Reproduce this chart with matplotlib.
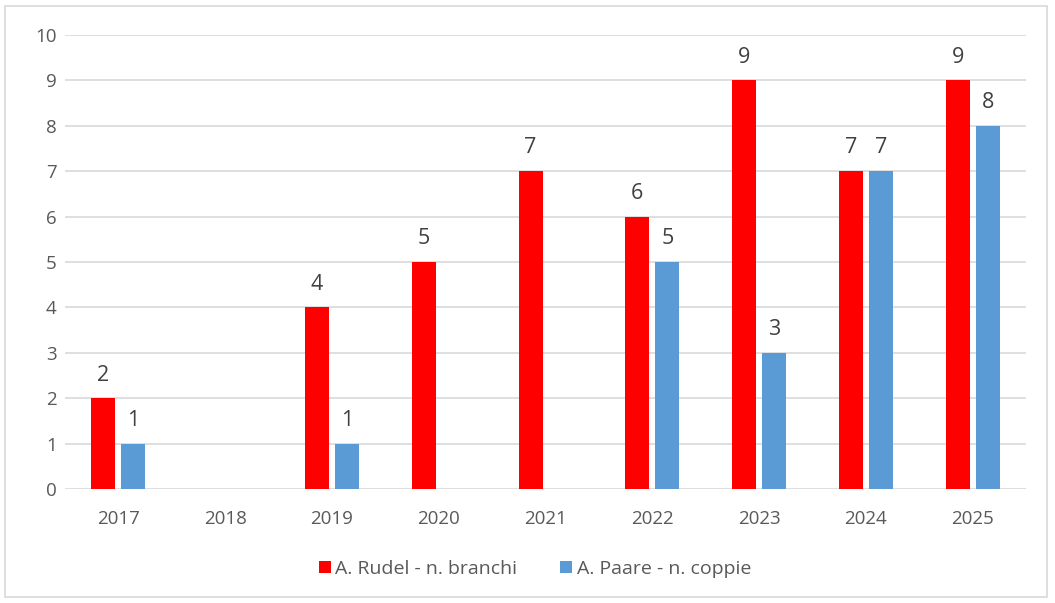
import numpy as np
import matplotlib.pyplot as plt
from matplotlib.patches import Rectangle

plt.rcParams['font.family'] = ['Open Sans', 'DejaVu Sans']

years = ['2017', '2018', '2019', '2020', '2021', '2022', '2023', '2024', '2025']
rudel = [2, np.nan, 4, 5, 7, 6, 9, 7, 9]
paare = [1, np.nan, 1, np.nan, np.nan, 5, 3, 7, 8]
labels = ['A. Rudel - n. branchi', 'A. Paare - n. coppie']
colors = ['#ff0000', '#5b9bd5']

fig = plt.figure(figsize=(10.55, 6.03), dpi=100)
fig.patches.append(Rectangle((5 / 1055, 6 / 603), 1042 / 1055, 591 / 603,
                             transform=fig.transFigure, fill=False,
                             edgecolor='#d9d9d9', linewidth=1.2))
ax = fig.add_axes([0.0616, 0.189, 0.911, 0.753])

x = np.arange(len(years))
w = 0.225
gap = 0.056
offs = [-(w + gap) / 2, (w + gap) / 2]
for vals, off, lab, col in zip([rudel, paare], offs, labels, colors):
    ax.bar(x + off, vals, width=w, color=col, label=lab, zorder=3)
    for xi, v in zip(x, vals):
        if not np.isnan(v):
            ax.text(xi + off, v + 0.28, f'{int(v)}', ha='center', va='bottom',
                    fontsize=15.5, color='#404040')

ax.set_xlim(-0.5, len(years) - 0.5)
ax.set_ylim(0, 10)
ax.set_yticks(range(0, 11))
ax.set_xticks(x)
ax.set_xticklabels(years)
ax.grid(axis='y', color='#d9d9d9', linewidth=1.2, zorder=0)
for s in ax.spines.values():
    s.set_visible(False)
ax.tick_params(length=0, labelsize=13.5, colors='#595959')
ax.tick_params(axis='y', pad=6)
ax.tick_params(axis='x', pad=15)

ax.legend(loc='upper center', bbox_to_anchor=(0.489, -0.118), ncol=2, frameon=False,
          fontsize=14, labelcolor='#595959', handlelength=0.6, handleheight=0.6,
          handletextpad=0.25, columnspacing=2.2)

fig.savefig('out.png', dpi=100)
